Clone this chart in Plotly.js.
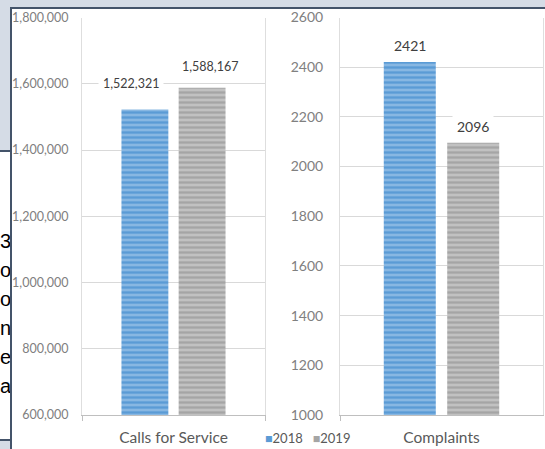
<!DOCTYPE html>
<html>
<head>
<meta charset="utf-8">
<script src="https://cdn.plot.ly/plotly-3.0.1.min.js"></script>
<style>
  html, body { margin: 0; padding: 0; width: 545px; height: 449px; overflow: hidden; background: #d5dce6; }
  #note {
    position: absolute; left: -2px; top: 150px; width: 14px;
    background: #fff; border: 2px solid #44546a; z-index: 1;
    font-family: "Liberation Sans", Arial, sans-serif; font-size: 20px; line-height: 29px; color: #000;
    padding-top: 75px; box-sizing: content-box; height: 212px; white-space: nowrap;
  }
  #frame {
    position: absolute; left: 10px; top: 7px; width: 545px; height: 450px;
    background: #fff; border-left: 2px solid #44546a; border-top: 2px solid #44546a; z-index: 2;
  }
  #chart { position: absolute; left: 0; top: 0; width: 545px; height: 449px; z-index: 3; }
</style>
</head>
<body>
<div id="note">
  <div>3</div>
  <div>o</div>
  <div>or</div>
  <div>n</div>
  <div>e</div>
  <div>as</div>
</div>
<div id="frame"></div>
<div id="chart"></div>
<script>
// Series and categories
const years = ['2018', '2019'];
const callsCategory = ['Calls for Service'];
const complaintsCategory = ['Complaints'];
const calls = [1522321, 1588167];
const complaints = [2421, 2096];

// Styling
const W = 545, H = 449;
const FONT = 'Lato, "Open Sans", sans-serif';
const fills = [
  { bg: '#5b9bd5', fg: '#d4e6f7' },
  { bg: '#a5a5a5', fg: '#efefef' }
];
const bargap = 0.375, bargroupgap = 0.18;
const leftDomain = [82 / W, 265 / W];
const rightDomain = [340 / W, 543 / W];
const yDomain = [1 - 415 / H, 1 - 17.5 / H];
const labelRise = [[26, 21], [16, 16]];
const labelNudge = [[-14, 8], [0, 0]];

function barTrace(i, cat, vals, xa, ya) {
  return {
    type: 'bar', name: years[i], showlegend: false,
    x: cat, y: [vals[i]], xaxis: xa, yaxis: ya,
    marker: {
      color: fills[i].bg, line: { width: 0 },
      pattern: { shape: '-', size: 5, solidity: 0.4, fgcolor: fills[i].fg, bgcolor: fills[i].bg, fillmode: 'overlay' }
    },
    hoverinfo: 'skip'
  };
}

const traces = [
  barTrace(0, callsCategory, calls, 'x', 'y'),
  barTrace(1, callsCategory, calls, 'x', 'y'),
  barTrace(0, complaintsCategory, complaints, 'x2', 'y2'),
  barTrace(1, complaintsCategory, complaints, 'x2', 'y2')
];

// Value labels above each bar, offset to the bar's slot inside the group
const annotations = [];
[[callsCategory, calls, 'x', 'y', leftDomain, 12.5, v => v.toLocaleString('en-US')],
 [complaintsCategory, complaints, 'x2', 'y2', rightDomain, 14, v => String(v)]]
  .forEach(([cat, vals, xa, ya, dom, fs, fmt], p) => {
    const slot = (dom[1] - dom[0]) * W * (1 - bargap) / 2;
    vals.forEach((v, i) => {
      annotations.push({
        x: cat[0], y: v, xref: xa, yref: ya, text: fmt(v), showarrow: false,
        xanchor: 'center', yanchor: 'middle',
        xshift: (i === 0 ? -slot / 2 : slot / 2) + labelNudge[p][i],
        yshift: labelRise[p][i],
        bgcolor: '#ffffff', borderpad: 4,
        font: { family: FONT, size: fs, color: '#404040' }
      });
    });
  });

// Compact key: a small colour square in front of each year
annotations.push({
  xref: 'paper', yref: 'paper', x: 263 / W, y: 1 - 438 / H,
  xanchor: 'left', yanchor: 'middle', showarrow: false,
  text: years.map((y, i) =>
    '<span style="color:' + fills[i].bg + ';font-size:12.5px">■</span>' + y).join('&nbsp;&nbsp;&nbsp;'),
  font: { family: FONT, size: 13, color: '#595959' }
});

const xCommon = {
  type: 'category', showgrid: false, showline: true, linecolor: '#bfbfbf', linewidth: 1,
  ticks: 'outside', tickson: 'boundaries', ticklen: 5, tickcolor: '#bfbfbf',
  tickfont: { family: FONT, size: 15.5, color: '#595959' }, ticklabelstandoff: 8, fixedrange: true
};
const yCommon = {
  showgrid: true, gridcolor: '#d9d9d9', gridwidth: 1, zeroline: false,
  showline: true, mirror: true, linecolor: '#dedede', linewidth: 1, ticks: '', fixedrange: true
};

const layout = {
  width: W, height: H,
  margin: { l: 0, r: 0, t: 0, b: 0 },
  paper_bgcolor: 'rgba(0,0,0,0)', plot_bgcolor: 'rgba(0,0,0,0)',
  barmode: 'group', bargap: bargap, bargroupgap: bargroupgap,
  xaxis: Object.assign({}, xCommon, { domain: leftDomain, anchor: 'y' }),
  xaxis2: Object.assign({}, xCommon, { domain: rightDomain, anchor: 'y2' }),
  yaxis: Object.assign({}, yCommon, {
    domain: yDomain, anchor: 'x', range: [600000, 1800000], dtick: 200000, tick0: 0,
    tickformat: ',d', ticklabelstandoff: 10,
    tickfont: { family: FONT, size: 12.5, color: '#808080' }
  }),
  yaxis2: Object.assign({}, yCommon, {
    domain: yDomain, anchor: 'x2', range: [1000, 2600], dtick: 200, tick0: 0,
    tickformat: 'd', ticklabelstandoff: 13,
    tickfont: { family: FONT, size: 14, color: '#808080' }
  }),
  showlegend: false,
  annotations: annotations
};

Plotly.newPlot('chart', traces, layout, { displayModeBar: false, staticPlot: true });
</script>
</body>
</html>
